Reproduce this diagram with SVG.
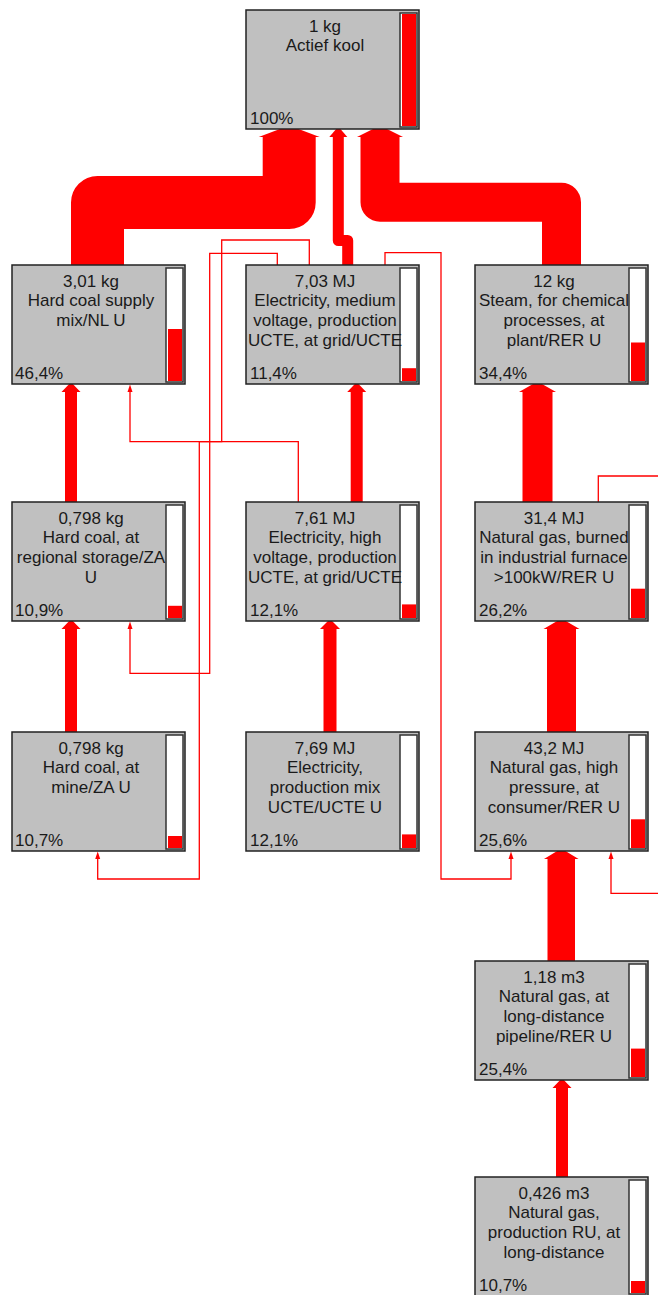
<svg xmlns="http://www.w3.org/2000/svg" width="658" height="1295" viewBox="0 0 658 1295">
  <style>
    .box { fill: #c0c0c0; stroke: #222; stroke-width: 1.5; }
    .bar { fill: #fff; stroke: #333; stroke-width: 1.5; }
    .lvl { fill: #ff0000; }
    .t { font-family: "Liberation Sans", Arial, sans-serif; font-size: 17px; fill: #1a1a1a; text-anchor: middle; }
    .p { font-family: "Liberation Sans", Arial, sans-serif; font-size: 17px; fill: #1a1a1a; }
    .flow { fill: #ff0000; }
    .bend { fill: none; stroke: #ff0000; stroke-linejoin: round; stroke-linecap: butt; }
    .link { fill: none; stroke: #ff0000; stroke-width: 1.3; }
    .tip { fill: #ff0000; }
  </style>

  <!-- flows (supplier top -> consumer bottom) -->
  <g id="connectors">
    <!-- into Actief kool -->
    <path class="bend" stroke-width="53" d="M97.5 265 V202.5 H289.2 V137"/>
    <polygon class="flow" points="258.7,137 281.2,128.5 297.2,128.5 319.7,137"/>
    <path class="bend" stroke-width="11" d="M347.7 265 V240.5 H338.3 V137"/>
    <polygon class="flow" points="329.3,137 336.6,128.5 340,128.5 347.3,137"/>
    <path class="bend" stroke-width="39" d="M561.5 265 V202.2 H380 V137"/>
    <polygon class="flow" points="357,137 374,128.5 386,128.5 403,137"/>

    <!-- row 2 -> row 1 -->
    <polygon class="flow" points="65,502 65,392 61.5,392 69.2,384 72.8,384 80.5,392 77,392 77,502"/>
    <polygon class="flow" points="350.7,502 350.7,392 347.2,392 354.9,384 358.5,384 366.2,392 362.7,392 362.7,502"/>
    <polygon class="flow" points="522.5,502 522.5,392 519,392 533,384 542,384 556,392 552.5,392 552.5,502"/>

    <!-- row 3 -> row 2 -->
    <polygon class="flow" points="65,732 65,629 61.5,629 69.2,621 72.8,621 80.5,629 77,629 77,732"/>
    <polygon class="flow" points="323.5,732 323.5,629 320,629 328,621 332,621 340,629 336.5,629 336.5,732"/>
    <polygon class="flow" points="547,732 547,629 543.5,629 557.2,621 565.8,621 579.5,629 576,629 576,732"/>

    <!-- row 4 -> row 3 -->
    <polygon class="flow" points="547.5,961 547.5,859 544,859 557.2,851 565.4,851 578.6,859 575,859 575,961"/>

    <!-- row 5 -> row 4 -->
    <polygon class="flow" points="556,1177 556,1088 552.5,1088 560.2,1080 563.8,1080 571.5,1088 568,1088 568,1177"/>

    <!-- thin links -->
    <polyline class="link" points="298.3,502 298.3,441.7 130,441.7 130,390"/>
    <polygon class="tip" points="130,384.5 127.5,392 132.5,392"/>

    <polyline class="link" points="309.3,265 309.3,240 221.7,240 221.7,441.7 199.3,441.7 199.3,879 97.7,879 97.7,857"/>
    <polygon class="tip" points="97.7,851.5 95.2,859 100.2,859"/>

    <polyline class="link" points="277.3,265 277.3,253.3 209.7,253.3 209.7,673.3 130,673.3 130,627"/>
    <polygon class="tip" points="130,621.5 127.5,629 132.5,629"/>

    <polyline class="link" points="385,265 385,252.7 441,252.7 441,879 511,879 511,857"/>
    <polygon class="tip" points="511,851.5 508.5,859 513.5,859"/>

    <polyline class="link" points="598.3,502 598.3,476 660,476"/>

    <polyline class="link" points="660,893.3 611,893.3 611,857"/>
    <polygon class="tip" points="611,851.5 608.5,859 613.5,859"/>
  </g>

  <!-- process boxes -->
  <g id="n-actief-kool">
    <rect class="box" x="246" y="10" width="173" height="119"/>
    <rect class="bar" x="400" y="13" width="17" height="114"/>
    <rect class="lvl" x="402" y="14" width="14" height="112"/>
    <text class="t" x="325" y="31.5">1 kg</text>
    <text class="t" x="325" y="51.3">Actief kool</text>
    <text class="p" x="250" y="124">100%</text>
  </g>

  <g id="n-hard-coal-supply">
    <rect class="box" x="12" y="265" width="173" height="119"/>
    <rect class="bar" x="166" y="268" width="17" height="114"/>
    <rect class="lvl" x="168" y="329" width="14" height="52"/>
    <text class="t" x="91" y="286.5">3,01 kg</text>
    <text class="t" x="91" y="306.3">Hard coal supply</text>
    <text class="t" x="91" y="326.1">mix/NL U</text>
    <text class="p" x="15" y="379">46,4%</text>
  </g>

  <g id="n-electricity-medium">
    <rect class="box" x="246" y="265" width="173" height="119"/>
    <rect class="bar" x="400" y="268" width="17" height="114"/>
    <rect class="lvl" x="402" y="368.2" width="14" height="12.8"/>
    <text class="t" x="325" y="286.5">7,03 MJ</text>
    <text class="t" x="325" y="306.3">Electricity, medium</text>
    <text class="t" x="325" y="326.1">voltage, production</text>
    <text class="t" x="325" y="345.9">UCTE, at grid/UCTE</text>
    <text class="p" x="250" y="379">11,4%</text>
  </g>

  <g id="n-steam">
    <rect class="box" x="475" y="265" width="173" height="119"/>
    <rect class="bar" x="629" y="268" width="17" height="114"/>
    <rect class="lvl" x="631" y="342.5" width="14" height="38.5"/>
    <text class="t" x="554" y="286.5">12 kg</text>
    <text class="t" x="554" y="306.3">Steam, for chemical</text>
    <text class="t" x="554" y="326.1">processes, at</text>
    <text class="t" x="554" y="345.9">plant/RER U</text>
    <text class="p" x="479" y="379">34,4%</text>
  </g>

  <g id="n-hard-coal-storage">
    <rect class="box" x="12" y="502" width="173" height="119"/>
    <rect class="bar" x="166" y="505" width="17" height="114"/>
    <rect class="lvl" x="168" y="605.8" width="14" height="12.2"/>
    <text class="t" x="91" y="523.5">0,798 kg</text>
    <text class="t" x="91" y="543.3">Hard coal, at</text>
    <text class="t" x="91" y="563.1">regional storage/ZA</text>
    <text class="t" x="91" y="582.9">U</text>
    <text class="p" x="15" y="616">10,9%</text>
  </g>

  <g id="n-electricity-high">
    <rect class="box" x="246" y="502" width="173" height="119"/>
    <rect class="bar" x="400" y="505" width="17" height="114"/>
    <rect class="lvl" x="402" y="604.4" width="14" height="13.6"/>
    <text class="t" x="325" y="523.5">7,61 MJ</text>
    <text class="t" x="325" y="543.3">Electricity, high</text>
    <text class="t" x="325" y="563.1">voltage, production</text>
    <text class="t" x="325" y="582.9">UCTE, at grid/UCTE</text>
    <text class="p" x="250" y="616">12,1%</text>
  </g>

  <g id="n-natural-gas-burned">
    <rect class="box" x="475" y="502" width="173" height="119"/>
    <rect class="bar" x="629" y="505" width="17" height="114"/>
    <rect class="lvl" x="631" y="588.7" width="14" height="29.3"/>
    <text class="t" x="554" y="523.5">31,4 MJ</text>
    <text class="t" x="554" y="543.3">Natural gas, burned</text>
    <text class="t" x="554" y="563.1">in industrial furnace</text>
    <text class="t" x="554" y="582.9">&gt;100kW/RER U</text>
    <text class="p" x="479" y="616">26,2%</text>
  </g>

  <g id="n-hard-coal-mine">
    <rect class="box" x="12" y="732" width="173" height="119"/>
    <rect class="bar" x="166" y="735" width="17" height="114"/>
    <rect class="lvl" x="168" y="836" width="14" height="12"/>
    <text class="t" x="91" y="753.5">0,798 kg</text>
    <text class="t" x="91" y="773.3">Hard coal, at</text>
    <text class="t" x="91" y="793.1">mine/ZA U</text>
    <text class="p" x="15" y="846">10,7%</text>
  </g>

  <g id="n-electricity-mix">
    <rect class="box" x="246" y="732" width="173" height="119"/>
    <rect class="bar" x="400" y="735" width="17" height="114"/>
    <rect class="lvl" x="402" y="834.4" width="14" height="13.6"/>
    <text class="t" x="325" y="753.5">7,69 MJ</text>
    <text class="t" x="325" y="773.3">Electricity,</text>
    <text class="t" x="325" y="793.1">production mix</text>
    <text class="t" x="325" y="812.9">UCTE/UCTE U</text>
    <text class="p" x="250" y="846">12,1%</text>
  </g>

  <g id="n-natural-gas-high-pressure">
    <rect class="box" x="475" y="732" width="173" height="119"/>
    <rect class="bar" x="629" y="735" width="17" height="114"/>
    <rect class="lvl" x="631" y="819.3" width="14" height="28.7"/>
    <text class="t" x="554" y="753.5">43,2 MJ</text>
    <text class="t" x="554" y="773.3">Natural gas, high</text>
    <text class="t" x="554" y="793.1">pressure, at</text>
    <text class="t" x="554" y="812.9">consumer/RER U</text>
    <text class="p" x="479" y="846">25,6%</text>
  </g>

  <g id="n-natural-gas-pipeline">
    <rect class="box" x="475" y="961" width="173" height="119"/>
    <rect class="bar" x="629" y="964" width="17" height="114"/>
    <rect class="lvl" x="631" y="1048.6" width="14" height="28.4"/>
    <text class="t" x="554" y="982.5">1,18 m3</text>
    <text class="t" x="554" y="1002.3">Natural gas, at</text>
    <text class="t" x="554" y="1022.1">long-distance</text>
    <text class="t" x="554" y="1041.9">pipeline/RER U</text>
    <text class="p" x="479" y="1075">25,4%</text>
  </g>

  <g id="n-natural-gas-production-ru">
    <rect class="box" x="475" y="1177" width="173" height="119"/>
    <rect class="bar" x="629" y="1180" width="17" height="114"/>
    <rect class="lvl" x="631" y="1281" width="14" height="12"/>
    <text class="t" x="554" y="1198.5">0,426 m3</text>
    <text class="t" x="554" y="1218.3">Natural gas,</text>
    <text class="t" x="554" y="1238.1">production RU, at</text>
    <text class="t" x="554" y="1257.9">long-distance</text>
    <text class="p" x="479" y="1291">10,7%</text>
  </g>
</svg>
